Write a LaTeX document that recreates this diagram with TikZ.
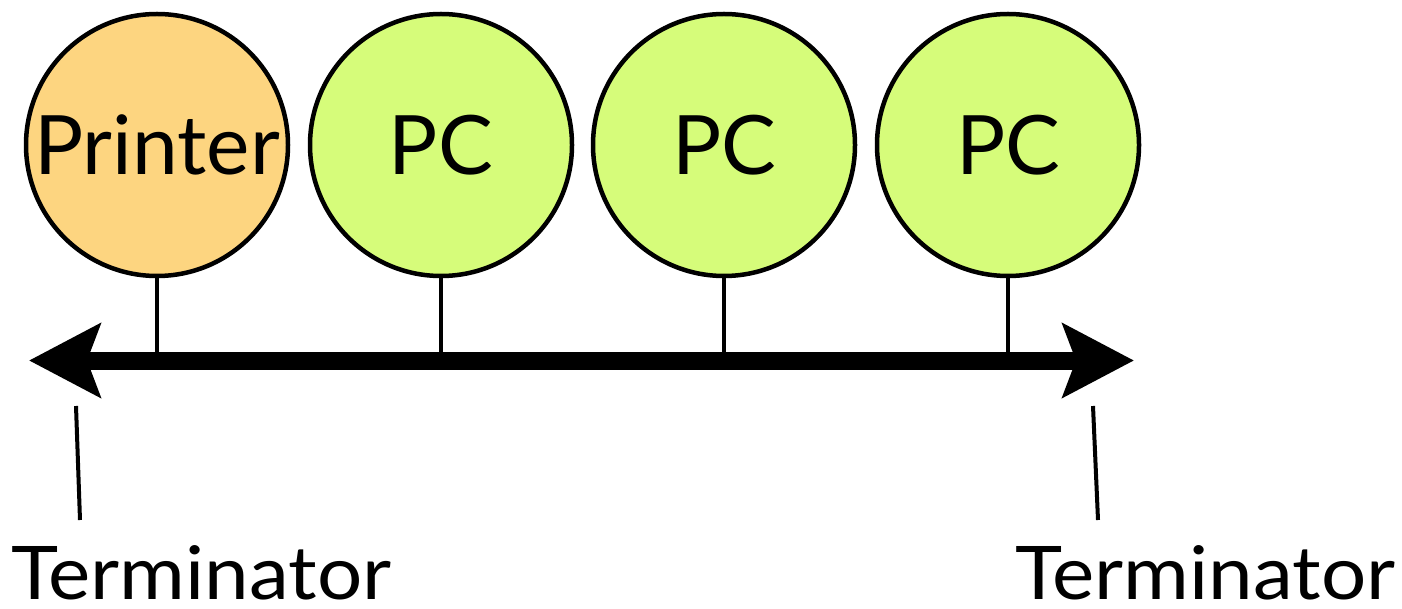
\documentclass[tikz,border=0pt]{standalone}
\usepackage{fontspec}
\setmainfont{Lato}
\newfontfamily\labelfont[FakeStretch=1.08]{Lato}
\usetikzlibrary{arrows.meta}
\definecolor{printerfill}{RGB}{253,213,128}
\definecolor{pcfill}{RGB}{214,252,122}
\tikzset{
  device/.style={circle, draw=black, line width=4.5pt, minimum size=262pt, inner sep=0pt,
                 font=\fontsize{82}{90}\selectfont},
  stem/.style={line width=4.5pt},
  bus/.style={line width=18pt, {Stealth[length=71pt,width=73pt,inset=13pt]}-{Stealth[length=71pt,width=73pt,inset=13pt]}},
  termline/.style={line width=4pt},
  termlabel/.style={inner sep=0pt, anchor=base west, font=\labelfont\fontsize{74}{80}\selectfont}
}
\begin{document}
\begin{tikzpicture}[x=1pt,y=-1pt]
  \useasboundingbox (0,0) rectangle (1402,609);
  % stations on the shared cable
  \node[device, fill=printerfill] (printer) at (157,145) {Printer};
  \node[device, fill=pcfill] (pc1) at (441,145) {PC};
  \node[device, fill=pcfill] (pc2) at (724,145) {PC};
  \node[device, fill=pcfill] (pc3) at (1008,145) {PC};
  % cable ends
  \coordinate (busL) at (29,360.5);
  \coordinate (busR) at (1134,360.5);
  % taps from each station down to the cable
  \foreach \n in {printer,pc1,pc2,pc3}
    \draw[stem] (\n.south) -- (\n.south |- busL);
  \draw[bus] (busL) -- (busR);
  % terminator labels and their pointers
  \node[termlabel] (termL) at (11,599) {Terminator};
  \node[termlabel] (termR) at (1015,599) {Terminator};
  \coordinate (tlTop) at (76,406);
  \coordinate (tlBot) at (80,520);
  \coordinate (trTop) at (1093,406);
  \coordinate (trBot) at (1098,520);
  \draw[termline] (tlTop) -- (tlBot);
  \draw[termline] (trTop) -- (trBot);
\end{tikzpicture}
\end{document}
